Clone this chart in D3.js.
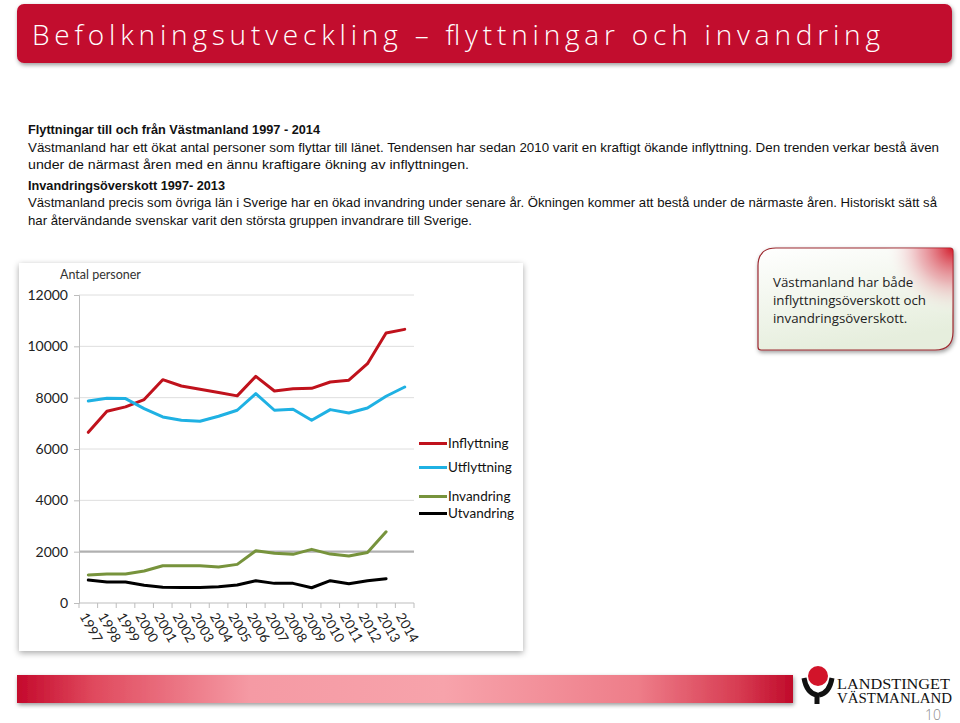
<!DOCTYPE html>
<html><head><meta charset="utf-8">
<script src="https://cdn.jsdelivr.net/npm/d3@7"></script>
<style>
html,body{margin:0;padding:0;background:#fff;}
svg{display:block;}
</style></head>
<body>
<svg id="c" width="960" height="723"></svg>
<script>
// ---- data ----
const years = ["1997","1998","1999","2000","2001","2002","2003","2004","2005","2006","2007","2008","2009","2010","2011","2012","2013","2014"];
const inflyttning = [6650,7470,7640,7925,8700,8455,8330,8200,8070,8830,8260,8350,8365,8610,8680,9325,10520,10660];
const utflyttning = [7870,7975,7965,7575,7250,7120,7080,7275,7510,8160,7510,7550,7120,7535,7405,7600,8055,8415];
const invandring = [1090,1130,1130,1245,1450,1450,1450,1400,1505,2035,1935,1895,2090,1905,1830,1970,2775];
const utvandring = [895,817,817,690,610,600,600,635,700,870,765,765,595,870,750,870,945];
const yTicks = [0,2000,4000,6000,8000,10000,12000];
const seriesNames = ["Inflyttning","Utflyttning","Invandring","Utvandring"];
const seriesColors = ["#c0121c","#1fb1e3","#77933c","#000000"];
const titleText = "Befolkningsutveckling – flyttningar och invandring";
const paragraphs = [
  {t:"Flyttningar till och från Västmanland 1997 - 2014", b:true, w:292},
  {t:"Västmanland har ett ökat antal personer som flyttar till länet. Tendensen har sedan 2010 varit en kraftigt ökande inflyttning. Den trenden verkar bestå även", b:false, w:911},
  {t:"under de närmast åren med en ännu kraftigare ökning av inflyttningen.", b:false, w:441},
  {t:"Invandringsöverskott 1997- 2013", b:true, w:197},
  {t:"Västmanland precis som övriga län i Sverige har en ökad invandring under senare år. Ökningen kommer att bestå under de närmaste åren. Historiskt sätt så", b:false, w:909},
  {t:"har återvändande svenskar varit den största gruppen invandrare till Sverige.", b:false, w:444}
];
const calloutLines = ["Västmanland har både","inflyttningsöverskott och","invandringsöverskott."];

const svg = d3.select("#c");
const defs = svg.append("defs");

// filters
const sh = defs.append("filter").attr("id","shadow").attr("x","-10%").attr("y","-10%").attr("width","120%").attr("height","125%");
sh.append("feDropShadow").attr("dx",0).attr("dy",2).attr("stdDeviation",3).attr("flood-color","#000").attr("flood-opacity",0.35);
const sh2 = defs.append("filter").attr("id","shadow2").attr("x","-10%").attr("y","-10%").attr("width","120%").attr("height","130%");
sh2.append("feDropShadow").attr("dx",1).attr("dy",2).attr("stdDeviation",2).attr("flood-color","#000").attr("flood-opacity",0.4);

// title banner
svg.append("rect").attr("x",17).attr("y",4).attr("width",935).attr("height",59).attr("rx",7)
  .attr("fill","#c20a2f").attr("filter","url(#shadow2)");
svg.append("text").attr("x",32).attr("y",45).attr("fill","#fff")
  .attr("font-family","'Open Sans', sans-serif").attr("font-size",28).attr("font-weight",300)
  .attr("textLength",848).attr("lengthAdjust","spacing").text(titleText);

// paragraphs
const baselines = [133.5,151.5,168.5,189.5,206.5,224.5];
paragraphs.forEach((p,i)=>{
  svg.append("text").attr("x",28).attr("y",baselines[i])
    .attr("font-family","'Liberation Sans Narrow','Liberation Sans',Arial,sans-serif")
    .attr("font-size",13).attr("font-weight",p.b?"bold":"normal").attr("fill","#111")
    .attr("textLength",p.w).attr("lengthAdjust","spacingAndGlyphs").text(p.t);
});

// chart panel
svg.append("rect").attr("x",19).attr("y",263).attr("width",504).attr("height",388)
  .attr("fill","#fff").attr("filter","url(#shadow)");

const x = d3.scaleBand().domain(years).range([79,414]).paddingInner(0).paddingOuter(0);
const y = d3.scaleLinear().domain([0,12000]).range([603,295]);
const cx = d => x(d) + x.bandwidth()/2;

const chartFont = "Lato, 'Open Sans', sans-serif";

// gridlines
svg.append("g").selectAll("line").data(yTicks.filter(v=>v>0)).join("line")
  .attr("x1",79).attr("x2",414).attr("y1",d=>y(d)).attr("y2",d=>y(d))
  .attr("stroke",d=>d===2000?"#b0b0b0":"#dedede").attr("stroke-width",d=>d===2000?2.2:1);

// y axis
const yAxis = svg.append("g").attr("transform","translate(79,0)")
  .call(d3.axisLeft(y).tickValues(yTicks).tickSize(5).tickPadding(6).tickFormat(d3.format("d")));
yAxis.select(".domain").attr("stroke","#bdbdbd");
yAxis.selectAll(".tick line").attr("stroke","#bdbdbd");
yAxis.selectAll("text").attr("font-family",chartFont).attr("font-size",14).attr("fill","#222");

// x axis
const xg = svg.append("g");
xg.append("line").attr("x1",79).attr("x2",414).attr("y1",603).attr("y2",603).attr("stroke","#bdbdbd");
const bounds = years.map(d=>x(d)).concat([x(years[years.length-1])+x.bandwidth()]);
xg.selectAll("line.tk").data(bounds).join("line").attr("class","tk")
  .attr("x1",d=>d).attr("x2",d=>d).attr("y1",603).attr("y2",608).attr("stroke","#bdbdbd");
xg.selectAll("text").data(years).join("text")
  .attr("transform",d=>`translate(${cx(d)-5},${614}) rotate(60)`)
  .attr("font-family",chartFont).attr("font-size",13.5).attr("fill","#222")
  .attr("dy","0.35em").text(d=>d);

// axis title
svg.append("text").attr("x",60).attr("y",279).attr("font-family",chartFont).attr("font-size",12.5)
  .attr("fill","#333").text("Antal personer");

// lines
const line = d3.line().x((d,i)=>cx(years[i])).y(d=>y(d));
[inflyttning,utflyttning,invandring,utvandring].forEach((s,i)=>{
  svg.append("path").attr("d",line(s)).attr("fill","none").attr("stroke",seriesColors[i])
    .attr("stroke-width",3).attr("stroke-linejoin","round").attr("stroke-linecap","round");
});

// legend
const legY = [443.5,467.5,496.5,513.5];
seriesNames.forEach((n,i)=>{
  svg.append("line").attr("x1",419).attr("x2",447).attr("y1",legY[i]).attr("y2",legY[i])
    .attr("stroke",seriesColors[i]).attr("stroke-width",3);
  svg.append("text").attr("x",448).attr("y",legY[i]).attr("dy","0.35em")
    .attr("font-family",chartFont).attr("font-size",13.5).attr("fill","#111").text(n);
});

// callout
const cg = defs.append("linearGradient").attr("id","cbg").attr("x1","0").attr("y1","0").attr("x2","0.3").attr("y2","1");
cg.append("stop").attr("offset","0").attr("stop-color","#ffffff");
cg.append("stop").attr("offset","1").attr("stop-color","#e6eedd");
const rg = defs.append("radialGradient").attr("id","cglow").attr("cx","1").attr("cy","0").attr("r","0.35")
  .attr("gradientTransform","scale(1,1.9)");
rg.append("stop").attr("offset","0").attr("stop-color","#d01020").attr("stop-opacity",0.95);
rg.append("stop").attr("offset","0.5").attr("stop-color","#e06070").attr("stop-opacity",0.45);
rg.append("stop").attr("offset","1").attr("stop-color","#ffffff").attr("stop-opacity",0);
const bx=758, by=248, bw=195, bh=102, R=18, r=3;
const bpath = `M${bx+R},${by} H${bx+bw-r} Q${bx+bw},${by} ${bx+bw},${by+r} V${by+bh-R} Q${bx+bw},${by+bh} ${bx+bw-R},${by+bh} H${bx+r} Q${bx},${by+bh} ${bx},${by+bh-r} V${by+R} Q${bx},${by} ${bx+R},${by} Z`;
svg.append("path").attr("d",bpath).attr("fill","url(#cbg)").attr("stroke","#9c2a30").attr("stroke-width",1.2).attr("filter","url(#shadow2)");
svg.append("path").attr("d",bpath).attr("fill","url(#cglow)").attr("stroke","none");
calloutLines.forEach((t,i)=>{
  svg.append("text").attr("x",773).attr("y",287+i*18).attr("font-family","'Open Sans',sans-serif")
    .attr("font-size",13.3).attr("fill","#222").text(t);
});

// footer bar
const fg = defs.append("linearGradient").attr("id","fbar").attr("x1","0").attr("x2","1").attr("y1","0").attr("y2","0");
[["0","#c4092c"],["0.1","#e04a5e"],["0.3","#f59aa4"],["0.55","#f7a3ab"],["0.8","#ee7d89"],["0.93","#d73c52"],["1","#c00a2a"]]
  .forEach(s=>fg.append("stop").attr("offset",s[0]).attr("stop-color",s[1]));
svg.append("rect").attr("x",17).attr("y",675).attr("width",776).attr("height",28).attr("fill","url(#fbar)").attr("filter","url(#shadow2)");

// logo
const lg = svg.append("g");
lg.append("circle").attr("cx",818).attr("cy",676).attr("r",10).attr("fill","#d2142a");
lg.append("path").attr("d","M804,678 C806,690 812,694 817,695 L817,704")
  .attr("fill","none").attr("stroke","#111").attr("stroke-width",5);
lg.append("path").attr("d","M832,678 C830,690 824,694 819,695")
  .attr("fill","none").attr("stroke","#111").attr("stroke-width",5);
lg.append("text").attr("x",837).attr("y",689).attr("font-family","'Liberation Serif',serif").attr("font-size",14)
  .attr("fill","#111").attr("textLength",113).attr("lengthAdjust","spacingAndGlyphs").text("LANDSTINGET");
lg.append("text").attr("x",837).attr("y",703).attr("font-family","'Liberation Serif',serif").attr("font-size",14)
  .attr("fill","#111").attr("textLength",115).attr("lengthAdjust","spacingAndGlyphs").text("VÄSTMANLAND");
svg.append("text").attr("x",941).attr("y",720).attr("text-anchor","end").attr("font-family","'Open Sans',sans-serif")
  .attr("font-size",14).attr("font-weight",300).attr("fill","#8a8a8a").text("10");
</script>
</body></html>
